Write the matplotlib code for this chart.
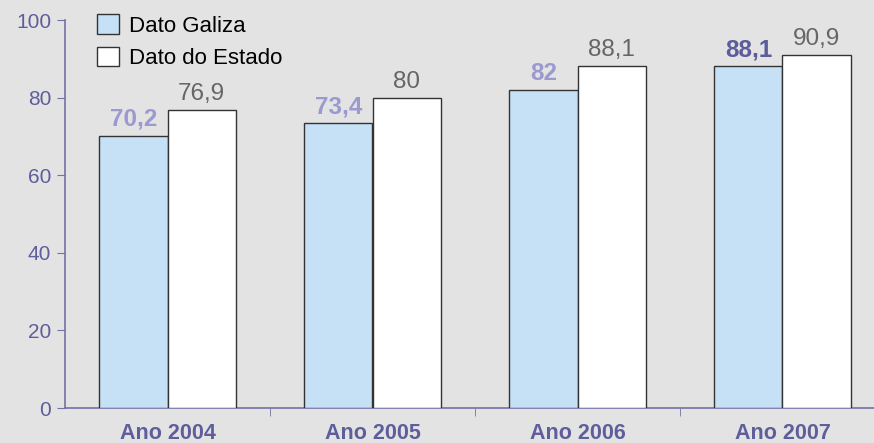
import numpy as np
import matplotlib.pyplot as plt

categories = ['Ano 2004', 'Ano 2005', 'Ano 2006', 'Ano 2007']
galiza = [70.2, 73.4, 82, 88.1]
estado = [76.9, 80, 88.1, 90.9]
galiza_labels = ['70,2', '73,4', '82', '88,1']
estado_labels = ['76,9', '80', '88,1', '90,9']
galiza_label_colors = ['#9a9ad0', '#9a9ad0', '#9a9ad0', '#5c5c9a']

plt.rcParams['font.family'] = ['Liberation Sans', 'DejaVu Sans']

axis_col = '#7272a4'
tick_col = '#5e5e9c'

fig = plt.figure(figsize=(8.74, 4.43), dpi=100, facecolor='#e3e3e3')
ax = fig.add_axes([65 / 874, 1 - 408 / 443, 820 / 874, 388 / 443])
ax.set_facecolor('none')

x = np.arange(len(categories))
w = 0.332
ax.bar(x - w / 2, galiza, w, color='#c6e1f6', edgecolor='#333333', linewidth=1.0,
       label='Dato Galiza', zorder=3)
ax.bar(x + w / 2, estado, w, color='white', edgecolor='#333333', linewidth=1.0,
       label='Dato do Estado', zorder=3)

for i in range(len(categories)):
    ax.annotate(galiza_labels[i], (x[i] - w / 2, galiza[i]), xytext=(0, 3.5),
                textcoords='offset points', ha='center', va='bottom',
                fontsize=17.5, fontweight='bold', color=galiza_label_colors[i])
    ax.annotate(estado_labels[i], (x[i] + w / 2, estado[i]), xytext=(0, 3.5),
                textcoords='offset points', ha='center', va='bottom',
                fontsize=17.5, color='#666666')

ax.set_xlim(-0.5, 3.5)
ax.set_ylim(0, 100)
ax.set_yticks([0, 20, 40, 60, 80, 100])
ax.set_xticks(x)
ax.set_xticklabels(categories, fontsize=15.5, fontweight='bold', color=tick_col)
ax.set_xticks([0.5, 1.5, 2.5], minor=True)
ax.tick_params(axis='x', which='major', length=0, pad=11)
ax.tick_params(axis='x', which='minor', length=6, direction='out', color=axis_col)
ax.tick_params(axis='y', length=6, direction='out', color=axis_col,
               labelcolor=tick_col, labelsize=15, pad=4)

for s in ['top', 'right']:
    ax.spines[s].set_visible(False)
for s in ['left', 'bottom']:
    ax.spines[s].set_color(axis_col)
    ax.spines[s].set_linewidth(1.2)

fig.legend(loc='upper left', bbox_to_anchor=(97 / 874, 1 - 14 / 443),
           frameon=False, fontsize=16, handlelength=1.0, handleheight=1.0,
           handletextpad=0.45, labelspacing=0.45, borderpad=0, borderaxespad=0)

fig.savefig('out.png', dpi=100, facecolor=fig.get_facecolor())
